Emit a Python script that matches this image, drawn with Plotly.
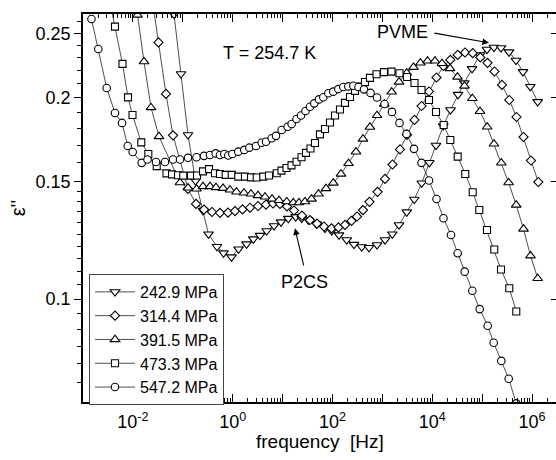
import plotly.graph_objects as go
import numpy as np

# ---------------- data ----------------
# log10(frequency / Hz) and epsilon'' for each pressure
labels = ["242.9 MPa", "314.4 MPa", "391.5 MPa", "473.3 MPa", "547.2 MPa"]

logf_2429 = [-1.317, -1.176, -1.036, -0.896, -0.745, -0.595, -0.485, -0.315, -0.184, -0.024,
             0.116, 0.277, 0.413, 0.547, 0.681, 0.828, 0.968, 1.114, 1.263, 1.383,
             1.515, 1.679, 1.850, 1.984, 2.130, 2.285, 2.431, 2.585, 2.731, 2.892,
             3.052, 3.198, 3.333, 3.487, 3.639, 3.788, 3.940, 4.074, 4.220, 4.365,
             4.515, 4.641, 4.796, 4.956, 5.096, 5.236, 5.377, 5.537, 5.677, 5.818,
             5.964, 6.112]
eps_2429 = [0.329, 0.2667, 0.2173, 0.1761, 0.1503, 0.1357, 0.1251, 0.1198, 0.1172, 0.1156,
            0.1188, 0.1209, 0.1230, 0.1245, 0.1265, 0.1287, 0.1304, 0.1320, 0.1328, 0.1321,
            0.1313, 0.1295, 0.1276, 0.1265, 0.1247, 0.1226, 0.1207, 0.1197, 0.1194, 0.1205,
            0.1226, 0.1251, 0.1291, 0.1350, 0.1410, 0.1491, 0.1600, 0.1698, 0.1816, 0.1919,
            0.2024, 0.2106, 0.2212, 0.2320, 0.2364, 0.2381, 0.2377, 0.2343, 0.2276, 0.2189,
            0.2080, 0.1974]

logf_3144 = [-1.637, -1.487, -1.337, -1.196, -0.896, -0.735, -0.575, -0.415, -0.255, -0.094,
             0.046, 0.196, 0.347, 0.507, 0.667, 0.808, 0.948, 1.088, 1.228, 1.389,
             1.549, 1.689, 1.830, 1.980, 2.120, 2.250, 2.381, 2.491, 2.611, 2.741,
             2.902, 3.052, 3.202, 3.353, 3.493, 3.643, 3.784, 3.934, 4.084, 4.224,
             4.361, 4.509, 4.655, 4.810, 4.962, 5.106, 5.246, 5.397, 5.543, 5.687,
             5.828, 5.978, 6.124]
eps_3144 = [0.289, 0.2422, 0.2028, 0.1758, 0.1462, 0.1388, 0.1361, 0.1350, 0.1346, 0.1347,
            0.1354, 0.1362, 0.1370, 0.1378, 0.1385, 0.1390, 0.1388, 0.1376, 0.1357, 0.1333,
            0.1313, 0.1297, 0.1284, 0.1276, 0.1280, 0.1291, 0.1309, 0.1329, 0.1359, 0.1398,
            0.1447, 0.1513, 0.1590, 0.1675, 0.1761, 0.1854, 0.1945, 0.2045, 0.2146, 0.2233,
            0.2280, 0.2320, 0.2339, 0.2334, 0.2300, 0.2257, 0.2191, 0.2092, 0.1986, 0.1873,
            0.1748, 0.1612, 0.1497]

logf_3915 = [-2.058, -1.908, -1.778, -1.637, -1.477, -1.056, -0.896, -0.725, -0.595, -0.455,
             -0.335, -0.194, -0.054, 0.076, 0.226, 0.367, 0.507, 0.647, 0.788, 0.928,
             1.082, 1.214, 1.329, 1.449, 1.579, 1.719, 1.870, 2.016, 2.170, 2.321,
             2.471, 2.611, 2.751, 2.892, 3.038, 3.186, 3.333, 3.487, 3.623, 3.763,
             3.904, 4.054, 4.194, 4.355, 4.505, 4.645, 4.802, 4.956, 5.100, 5.236,
             5.383, 5.529, 5.681, 5.828, 5.968, 6.112]
eps_3915 = [0.321, 0.2662, 0.2267, 0.1935, 0.1751, 0.1494, 0.1467, 0.1462, 0.1474, 0.1474,
            0.1469, 0.1465, 0.1457, 0.1447, 0.1442, 0.1437, 0.1429, 0.1422, 0.1412, 0.1405,
            0.1399, 0.1394, 0.1394, 0.1399, 0.1412, 0.1437, 0.1464, 0.1492, 0.1539, 0.1596,
            0.1661, 0.1736, 0.1809, 0.1883, 0.1959, 0.2042, 0.2113, 0.2180, 0.2223, 0.2257,
            0.2272, 0.2272, 0.2253, 0.2214, 0.2150, 0.2084, 0.1997, 0.1910, 0.1810, 0.1707,
            0.1599, 0.1494, 0.1383, 0.1273, 0.1161, 0.1074]

logf_4733 = [-2.509, -2.359, -2.208, -2.098, -2.008, -1.832, -1.691, -1.523, -1.327, -1.216,
             -1.096, -0.990, -0.836, -0.715, -0.595, -0.475, -0.355, -0.255, -0.140, -0.020,
             0.112, 0.246, 0.367, 0.481, 0.613, 0.727, 0.882, 0.978, 1.078, 1.178,
             1.279, 1.379, 1.469, 1.559, 1.649, 1.749, 1.850, 1.950, 2.050, 2.150,
             2.250, 2.351, 2.451, 2.551, 2.651, 2.751, 2.882, 3.032, 3.182, 3.343,
             3.493, 3.643, 3.784, 3.934, 4.074, 4.228, 4.361, 4.509, 4.661, 4.810,
             4.942, 5.096, 5.242, 5.377, 5.543, 5.683]
eps_4733 = [0.290, 0.2557, 0.2249, 0.2004, 0.1886, 0.1716, 0.1649, 0.1581, 0.1542, 0.1537,
            0.1532, 0.1530, 0.1530, 0.1531, 0.1553, 0.1565, 0.1543, 0.1539, 0.1534, 0.1534,
            0.1525, 0.1525, 0.1521, 0.1520, 0.1525, 0.1531, 0.1543, 0.1557, 0.1571, 0.1585,
            0.1605, 0.1630, 0.1655, 0.1680, 0.1712, 0.1764, 0.1797, 0.1838, 0.1883, 0.1922,
            0.1966, 0.2007, 0.2049, 0.2080, 0.2113, 0.2143, 0.2170, 0.2186, 0.2190, 0.2178,
            0.2150, 0.2106, 0.2056, 0.1986, 0.1905, 0.1822, 0.1730, 0.1634, 0.1539, 0.1445,
            0.1359, 0.1269, 0.1186, 0.1107, 0.1038, 0.0958]

logf_5472 = [-2.830, -2.693, -2.525, -2.359, -2.218, -2.104, -2.004, -1.824, -1.707, -1.537,
             -1.357, -1.196, -1.056, -0.896, -0.725, -0.575, -0.455, -0.341, -0.255, -0.168,
             -0.088, -0.008, 0.112, 0.232, 0.333, 0.467, 0.581, 0.667, 0.782, 0.868,
             0.982, 1.102, 1.182, 1.279, 1.369, 1.459, 1.549, 1.635, 1.730, 1.816,
             1.916, 2.016, 2.116, 2.216, 2.317, 2.417, 2.521, 2.631, 2.762, 2.892,
             3.042, 3.192, 3.343, 3.483, 3.633, 3.784, 3.934, 4.084, 4.224, 4.375,
             4.509, 4.649, 4.802, 4.950, 5.110, 5.230, 5.383, 5.531, 5.683]
eps_5472 = [0.2626, 0.2368, 0.2070, 0.1899, 0.1835, 0.1695, 0.1660, 0.1599, 0.1618, 0.1604,
            0.1604, 0.1618, 0.1618, 0.1627, 0.1630, 0.1638, 0.1643, 0.1652, 0.1643, 0.1649,
            0.1640, 0.1649, 0.1662, 0.1672, 0.1685, 0.1695, 0.1714, 0.1720, 0.1741, 0.1755,
            0.1791, 0.1811, 0.1828, 0.1860, 0.1883, 0.1912, 0.1940, 0.1963, 0.1990, 0.2005,
            0.2033, 0.2044, 0.2062, 0.2077, 0.2081, 0.2086, 0.2077, 0.2060, 0.2035, 0.2003,
            0.1959, 0.1906, 0.1835, 0.1767, 0.1678, 0.1599, 0.1505, 0.1412, 0.1321, 0.1247,
            0.1171, 0.1099, 0.1029, 0.0966, 0.0912, 0.0860, 0.0808, 0.0760, 0.0698]

x_major_exp = [-3, -2, -1, 0, 1, 2, 3, 4, 5, 6]
x_tick_text = ["", "10<sup>-2</sup>", "", "10<sup>0</sup>", "", "10<sup>2</sup>", "",
               "10<sup>4</sup>", "", "10<sup>6</sup>"]
y_major = [0.1, 0.15, 0.2, 0.25]
y_tick_text = ["0.1", "0.15", "0.2", "0.25"]

# ---------------- styling ----------------
FONT = "Liberation Sans, Arial, sans-serif"
series = [
    (logf_2429, eps_2429, "triangle-down", 8.5),
    (logf_3144, eps_3144, "diamond", 7),
    (logf_3915, eps_3915, "triangle-up", 8.5),
    (logf_4733, eps_4733, "square", 7),
    (logf_5472, eps_5472, "circle", 7.5),
]

fig = go.Figure()
for (lf, ev, sym, sz), lab in zip(series, labels):
    fig.add_trace(go.Scatter(
        x=np.power(10.0, lf), y=ev, mode="lines+markers", name=lab,
        line=dict(color="#222222", width=0.8),
        marker=dict(symbol=sym, size=sz, color="white",
                    line=dict(color="black", width=1.1)),
        cliponaxis=True,
    ))

# empty trace so the right-hand tick axis is drawn
fig.add_trace(go.Scatter(x=[], y=[], yaxis="y2", showlegend=False, hoverinfo="skip"))

x_minor = [k * 10.0 ** d for d in range(-3, 7) for k in range(2, 10)]
y_minor = [0.075, 0.08, 0.085, 0.09, 0.095, 0.105, 0.11, 0.115, 0.12, 0.125, 0.13,
           0.135, 0.14, 0.145, 0.16, 0.17, 0.18, 0.19, 0.21, 0.22, 0.23, 0.24, 0.26]

yr = [np.log10(0.07013), np.log10(0.2671)]

fig.update_layout(
    width=556, height=460,
    margin=dict(l=83, r=0, t=14, b=58),
    paper_bgcolor="white", plot_bgcolor="white",
    font=dict(family=FONT, size=18, color="black"),
    showlegend=True,
    legend=dict(x=0.0127, y=0.330, xanchor="left", yanchor="top",
                bgcolor="white", bordercolor="#444", borderwidth=1,
                font=dict(family=FONT, size=16), tracegroupgap=0,
                itemwidth=40),
    xaxis=dict(type="log", range=[-3.0, 6.479],
               tickvals=[10.0 ** e for e in x_major_exp], ticktext=x_tick_text,
               ticks="inside", ticklen=8, tickwidth=1.2, tickcolor="black",
               ticklabelstandoff=3,
               showline=True, linecolor="black", linewidth=1.5, mirror="ticks",
               showgrid=False, zeroline=False,
               tickfont=dict(family=FONT, size=18),
               minor=dict(tickvals=x_minor, ticks="inside", ticklen=4,
                          tickwidth=1, tickcolor="black", showgrid=False)),
    yaxis=dict(type="log", range=yr,
               tickvals=y_major, ticktext=y_tick_text,
               ticks="outside", ticklen=7, tickwidth=1.2, tickcolor="black",
               showline=True, linecolor="black", linewidth=1.5,
               showgrid=False, zeroline=False,
               tickfont=dict(family=FONT, size=18),
               minor=dict(tickvals=y_minor, ticks="outside", ticklen=4,
                          tickwidth=1, tickcolor="black", showgrid=False),
               title=dict(text="ε''", font=dict(family=FONT, size=20), standoff=5)),
    yaxis2=dict(type="log", range=yr, overlaying="y", side="right",
                tickvals=y_major, showticklabels=False,
                ticks="inside", ticklen=5, tickwidth=1.2, tickcolor="black",
                showline=False, showgrid=False, zeroline=False),
)

# x-axis title placed as paper-anchored text
fig.add_annotation(x=0.502, y=-0.102, xref="paper", yref="paper",
                   text="frequency\u00a0 [Hz]", showarrow=False,
                   xanchor="center", yanchor="middle",
                   font=dict(family=FONT, size=19))

# text annotations (data coordinates; log axes use log10 units)
fig.add_annotation(x=0.747, y=np.log10(0.2336), text="T = 254.7 K", showarrow=False,
                   font=dict(family=FONT, size=18))
fig.add_annotation(x=3.403, y=np.log10(0.2511), text="PVME", showarrow=False,
                   font=dict(family=FONT, size=18))
fig.add_annotation(x=1.429, y=np.log10(0.1061), text="P2CS", showarrow=False,
                   font=dict(family=FONT, size=18))
# arrows
fig.add_annotation(x=5.136, y=np.log10(0.2418), ax=4.014, ay=np.log10(0.2503),
                   xref="x", yref="y", axref="x", ayref="y", text="",
                   showarrow=True, arrowhead=2, arrowsize=1.2, arrowwidth=1.1,
                   arrowcolor="black")
fig.add_annotation(x=1.248, y=np.log10(0.1276), ax=1.429, ay=np.log10(0.1117),
                   xref="x", yref="y", axref="x", ayref="y", text="",
                   showarrow=True, arrowhead=2, arrowsize=1.2, arrowwidth=1.1,
                   arrowcolor="black")

fig.write_html("out.html")
